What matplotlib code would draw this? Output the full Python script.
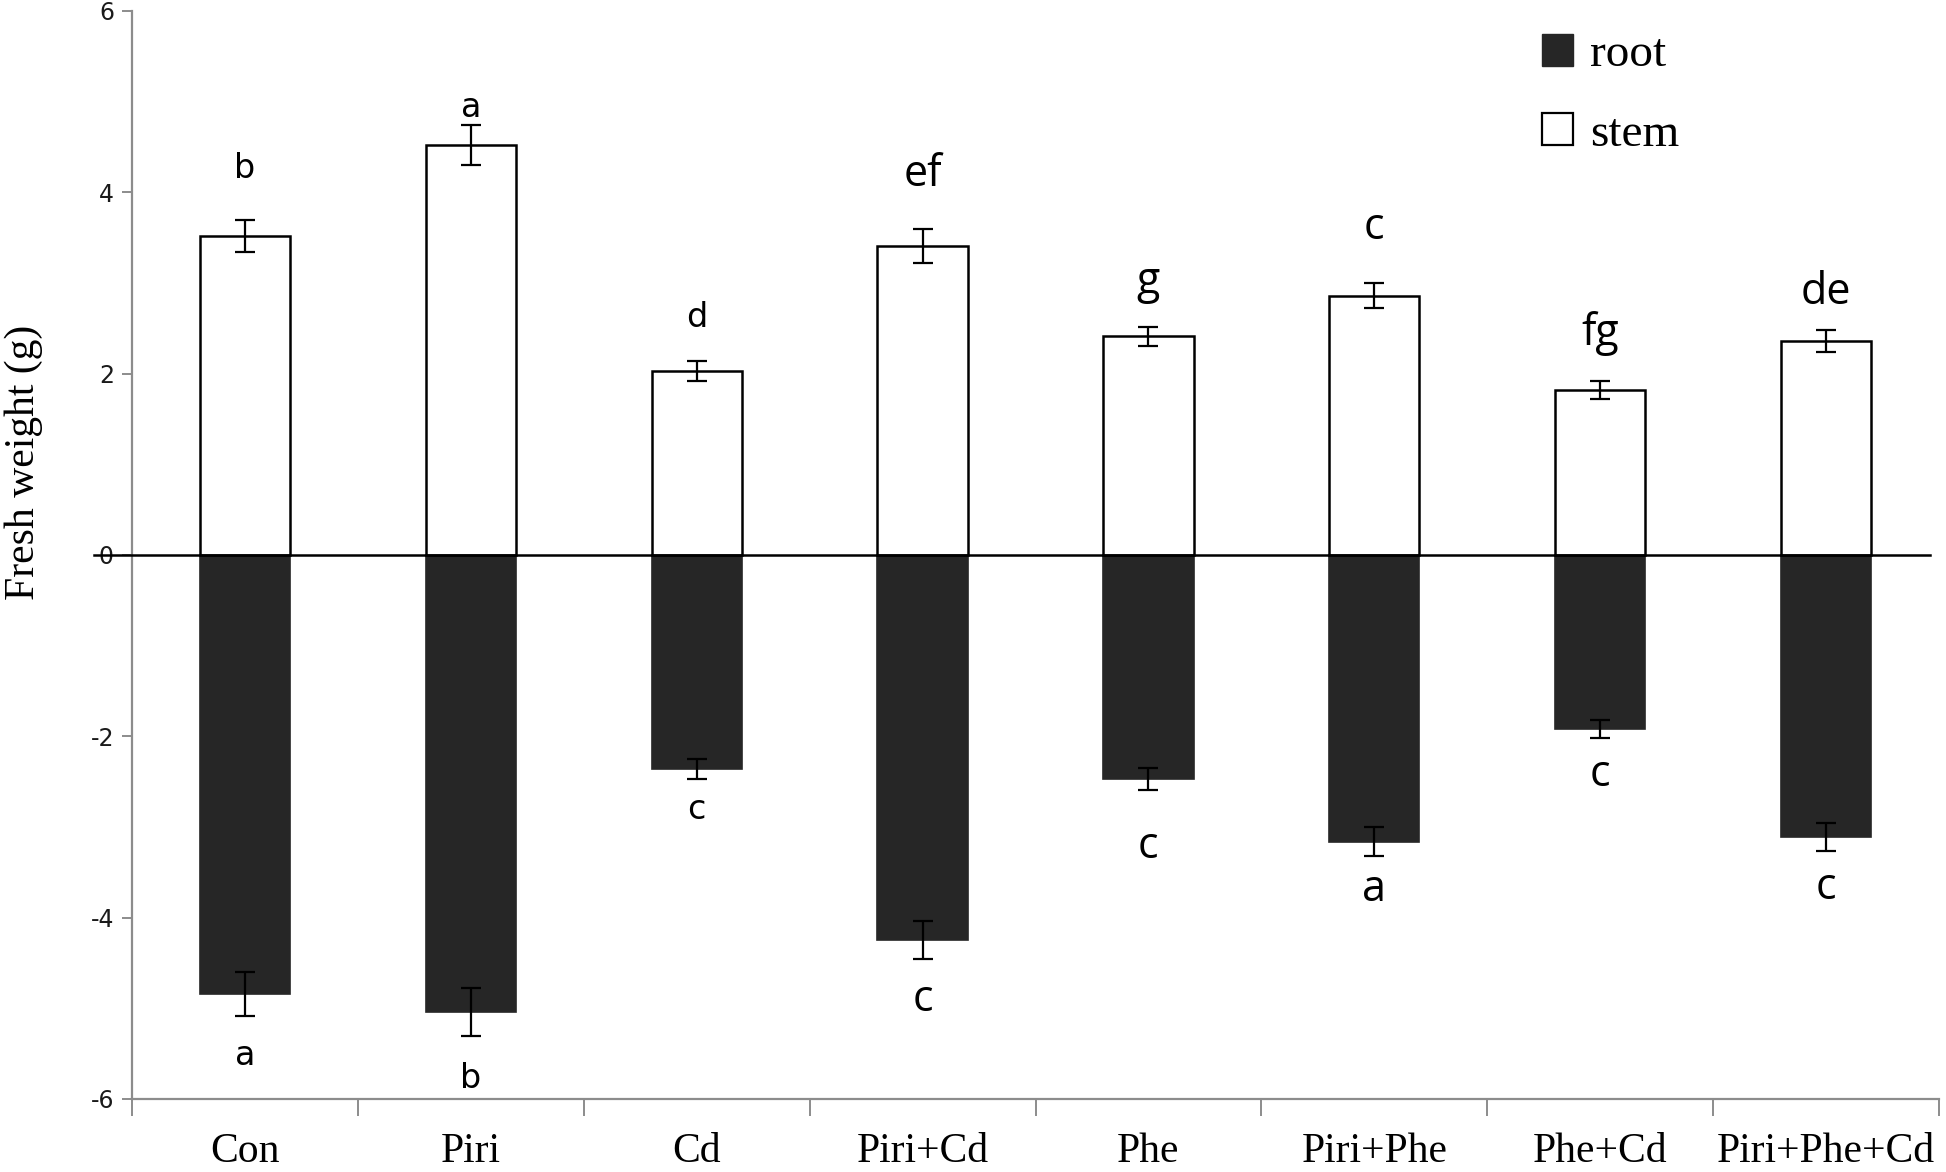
import numpy as np
import matplotlib
matplotlib.use("Agg")
import matplotlib.pyplot as plt
from matplotlib.patches import Patch

# data
treatments = ["Con", "Piri", "Cd", "Piri+Cd", "Phe", "Piri+Phe", "Phe+Cd", "Piri+Phe+Cd"]
stem = [3.52, 4.52, 2.03, 3.41, 2.41, 2.86, 1.82, 2.36]
stem_err = [0.18, 0.22, 0.11, 0.19, 0.11, 0.14, 0.10, 0.12]
root = [-4.84, -5.04, -2.36, -4.25, -2.47, -3.16, -1.92, -3.11]
root_err = [0.24, 0.26, 0.11, 0.21, 0.12, 0.16, 0.10, 0.15]
stem_letters = ["b", "a", "d", "ef", "g", "c", "fg", "de"]
root_letters = ["a", "b", "c", "c", "c", "a", "c", "c"]

# label styling (first three columns use a smaller font in the original)
small_font = dict(family="DejaVu Sans", fontsize=24)
big_font = dict(family="Open Sans", fontsize=31)
stem_gap = [37, 13, 31, 39, 32, 40, 34, 27]   # points above error bar
root_gap = [29, 31, 22, 29, 41, 24, 26, 27]   # points below error bar

fig = plt.figure(figsize=(19.46, 11.72), dpi=100)
ax = fig.add_axes([132 / 1946, 1 - 1099 / 1172, (1939 - 132) / 1946, (1099 - 11) / 1172])

x = np.arange(len(treatments)) + 0.5
w = 0.40
err_kw = dict(ecolor="black", elinewidth=1.6, capsize=7, capthick=1.6)

ax.bar(x, root, w, color="#262626", edgecolor="#262626", linewidth=1.2,
       yerr=root_err, error_kw=err_kw, label="root", zorder=2)
ax.bar(x, stem, w, color="white", edgecolor="black", linewidth=1.8,
       yerr=stem_err, error_kw=err_kw, label="stem", zorder=2)

ax.axhline(0, xmin=-0.021, xmax=0.995, color="black", linewidth=1.8,
           clip_on=False, zorder=3)

for i in range(len(treatments)):
    fnt = small_font if i < 3 else big_font
    ax.annotate(stem_letters[i], (x[i], stem[i] + stem_err[i]),
                xytext=(0, stem_gap[i]), textcoords="offset points",
                ha="center", va="center", color="black", **fnt)
    ax.annotate(root_letters[i], (x[i], root[i] - root_err[i]),
                xytext=(0, -root_gap[i]), textcoords="offset points",
                ha="center", va="center", color="black", **fnt)

ax.set_xlim(0, len(treatments))
ax.set_ylim(-6, 6)
ax.set_yticks([-6, -4, -2, 0, 2, 4, 6])
ax.set_yticklabels(["-6", "-4", "-2", "0", "2", "4", "6"],
                   family="DejaVu Sans", fontsize=17, color="#1a1a1a")
ax.tick_params(axis="y", length=7, width=1.4, color="#8c8c8c", pad=6)

ax.set_xticks(x)
ax.set_xticklabels(treatments, family="Liberation Serif", fontsize=30)
ax.tick_params(axis="x", which="major", length=0, pad=24)
ax.set_xticks(np.arange(len(treatments) + 1), minor=True)
ax.tick_params(axis="x", which="minor", length=12, width=1.4, color="#8c8c8c")

for s in ["top", "right"]:
    ax.spines[s].set_visible(False)
for s in ["left", "bottom"]:
    ax.spines[s].set_color("#8c8c8c")
    ax.spines[s].set_linewidth(1.6)

ax.set_ylabel("Fresh weight (g)", family="Liberation Serif", fontsize=30)
ax.yaxis.set_label_coords(-0.049, 0.585)

handles = [Patch(facecolor="#262626", edgecolor="#262626", label="root"),
           Patch(facecolor="white", edgecolor="black", linewidth=1.6, label="stem")]
fig.legend(handles=handles, loc="upper left", bbox_to_anchor=(1542 / 1946, 1 - 34 / 1172),
           frameon=False, prop=dict(family="Liberation Serif", size=34),
           handlelength=0.66, handleheight=0.66, handletextpad=0.35,
           labelspacing=0.78, borderpad=0, borderaxespad=0)

fig.savefig("out.png", dpi=100)
